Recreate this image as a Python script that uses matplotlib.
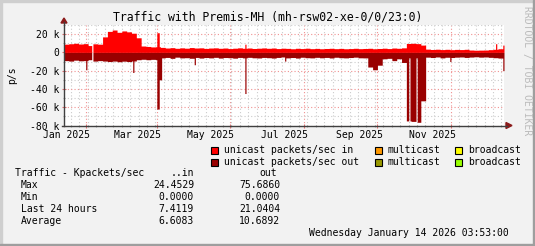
import datetime as dt
import numpy as np
import matplotlib
matplotlib.use("Agg")
import matplotlib.pyplot as plt
import matplotlib.dates as mdates
from matplotlib.patches import Rectangle, Polygon
from matplotlib.lines import Line2D
from matplotlib.transforms import IdentityTransform
from matplotlib.ticker import MultipleLocator, NullFormatter

W, H = 535, 246
MONO = "DejaVu Sans Mono"

start = dt.datetime(2025, 1, 14, 3, 53)
end = dt.datetime(2026, 1, 14, 3, 53)
step_days = 4

# k packets/s, one value per 4 days
in_base = [9.0, 9.5, 10.0, 9.2, 9.6, 7.5, 9.4, 9.0,
           17.0,
           23.0, 24.5, 22.0, 23.5, 22.5, 21.0,
           16.0,
           7.0, 6.5, 6.0, 6.2,
           5.5, 4.8, 5.2, 4.5, 5.0, 4.6, 5.3, 4.8, 5.0, 4.4,
           4.8, 5.0, 4.5, 4.8, 4.2, 4.6, 5.0, 4.5, 4.8, 4.3, 4.6, 4.9,
           4.5, 4.8, 4.2, 4.6, 4.4, 4.0, 4.5, 4.2, 4.6, 4.1, 4.4, 4.0, 4.3, 4.5,
           4.1, 4.4, 4.0, 4.2, 4.5, 4.1, 4.3,
           4.5, 4.0, 4.3, 4.6, 4.2, 4.8, 4.5, 5.0,
           9.8, 10.0, 9.6, 8.0,
           3.6, 3.2, 3.5, 3.1, 3.4, 3.0, 3.3, 3.1, 3.4, 2.6, 2.4, 2.5, 2.6, 3.0,
           3.4, 4.0, 5.0]
out_base = [9.0, 9.5, 8.5, 9.2, 9.0, 8.0, 9.5, 9.0,
            9.5, 10.0, 9.5, 10.2, 9.6, 10.0, 9.4,
            8.0, 7.5, 8.0, 7.6, 8.0,
            6.0, 5.5, 6.5, 5.2, 6.0, 5.8, 6.4, 5.5, 6.2, 5.6,
            6.0, 5.4, 6.2, 5.6, 5.8, 6.3, 5.5, 6.0, 5.4, 5.9, 6.1, 5.5,
            5.8, 6.2, 5.5, 5.0, 6.0, 5.6, 6.2, 5.3, 5.8, 6.0, 5.4, 5.9, 5.5, 6.1,
            5.3, 5.8, 6.0, 5.6, 5.2, 5.9, 6.0,
            16.0, 19.0, 14.0, 7.0, 6.5, 9.0, 7.0, 11.0,
            75.0, 75.5, 76.5, 53.0,
            5.2, 5.6, 5.0, 6.0, 5.3, 5.6, 5.2, 5.0, 5.5, 5.1, 4.8, 5.2, 5.0, 5.4,
            5.8, 6.2, 7.0]

# single days that stand out (day counted from start)
in_spike_day = [23, 77, 78, 150, 358, 364]
in_spike_val = [0.0, 21.5, 21.5, 9.0, 9.5, 8.0]
out_spike_day = [18, 23, 57, 77, 78, 79, 80, 108, 150, 183, 286, 292, 320, 364]
out_spike_val = [19.0, 0.0, 22.0, 62.0, 62.0, 30.0, 30.0, 13.5, 45.0, 9.5, 6.0, 6.0, 10.0, 20.0]

label_months = [(2025, 1), (2025, 3), (2025, 5), (2025, 7), (2025, 9), (2025, 11)]
ytick_vals = [20, 0, -20, -40, -60, -80]
ytick_text = ["20 k", "0", "-20 k", "-40 k", "-60 k", "-80 k"]

legend_names = ["unicast packets/sec in", "multicast", "broadcast",
                "unicast packets/sec out", "multicast", "broadcast"]
legend_colors = ["#ff0000", "#ff9900", "#ffff00", "#990000", "#999900", "#99ff00"]

stat_rows = ["Max", "Min", "Last 24 hours", "Average"]
stat_in = [24.4529, 0.0, 7.4119, 6.6083]
stat_out = [75.6860, 0.0, 21.0404, 10.6892]

ndays = (end - start).days
in_daily = np.repeat(np.array(in_base, dtype=float), step_days)[:ndays]
out_daily = np.repeat(np.array(out_base, dtype=float), step_days)[:ndays]
in_daily[in_spike_day] = in_spike_val
out_daily[out_spike_day] = out_spike_val

fig = plt.figure(figsize=(W / 100, H / 100), dpi=100)
fig.patch.set_facecolor("#f2f2f2")

# plot area 64..504 px wide, 25..125.5 px from top
ax = fig.add_axes([64 / W, (H - 125.5) / H, 440 / W, 100.5 / H])
ax.set_facecolor("white")

x = mdates.date2num(start) + np.arange(ndays + 1)
ax.fill_between(x, np.append(in_daily, in_daily[-1]), step="post", color="#ff0000", lw=0, zorder=2)
ax.fill_between(x, -np.append(out_daily, out_daily[-1]), step="post", color="#990000", lw=0, zorder=2)

ax.set_xlim(mdates.date2num(start), mdates.date2num(end))
ax.set_ylim(-80, 30)

ax.xaxis.set_major_locator(mdates.MonthLocator(bymonth=[2, 4, 6, 8, 10, 12]))
ax.xaxis.set_minor_locator(mdates.WeekdayLocator(byweekday=mdates.MO))
ax.xaxis.set_major_formatter(NullFormatter())
ax.set_yticks(ytick_vals, ytick_text)
ax.yaxis.set_minor_locator(MultipleLocator(10))
ax.set_axisbelow(True)
ax.grid(which="minor", color="#cccccc", ls=(0, (1, 2)), lw=0.8)
ax.grid(which="major", color="#f09090", ls=(0, (1, 2)), lw=0.8)
ax.tick_params(which="major", length=3, direction="inout", color="#e07070", width=0.8)
ax.tick_params(which="minor", length=2, direction="inout", color="#aaaaaa", width=0.8)
ax.tick_params(axis="y", labelsize=7, pad=2)
for lab in ax.get_yticklabels():
    lab.set_family(MONO)
for s in ax.spines.values():
    s.set_visible(False)

# month labels centred in their month
for yr, mo in label_months:
    c = dt.datetime(yr, mo, 1) + dt.timedelta(days=15)
    ax.annotate(c.strftime("%b %Y"), xy=(mdates.date2num(c), 0), xycoords=("data", "axes fraction"),
                xytext=(0, -10), textcoords="offset pixels", ha="center", va="center",
                fontsize=7, family=MONO, annotation_clip=False)

# axes with arrows (pixel coords, origin bottom-left)
px = IdentityTransform()
axis_col = "#404040"
arrow_col = "#8b1a1a"
fig.add_artist(Line2D([64, 64], [H - 126, H - 22], color=axis_col, lw=1, transform=px))
fig.add_artist(Line2D([62, 507], [H - 125.5, H - 125.5], color=axis_col, lw=1, transform=px))
fig.add_artist(Polygon([[61, H - 23], [67, H - 23], [64, H - 18]], closed=True, color=arrow_col, transform=px))
fig.add_artist(Polygon([[506, H - 122.5], [506, H - 128.5], [512, H - 125.5]], closed=True, color=arrow_col, transform=px))

# frame
fig.add_artist(Rectangle((0, H - 2), W, 2, color="#cfcfcf", transform=px))
fig.add_artist(Rectangle((0, 0), 2, H, color="#cfcfcf", transform=px))
fig.add_artist(Rectangle((0, 0), W, 2, color="#9e9e9e", transform=px))
fig.add_artist(Rectangle((W - 2, 0), 2, H, color="#9e9e9e", transform=px))

fig.text(0.5, 1 - 17 / H, "Traffic with Premis-MH (mh-rsw02-xe-0/0/23:0)", ha="center", va="center",
         fontsize=8.3, family=MONO)
fig.text(12 / W, 1 - 75.5 / H, "p/s", rotation=90, ha="center", va="center", fontsize=7, family=MONO)
fig.text(527 / W, 1 - 71 / H, "RRDTOOL / TOBI OETIKER", rotation=270, ha="center", va="center",
         fontsize=7, family=MONO, color="#bbbbbb")

# legend
sq_x = [211, 375, 455]
txt_x = [224, 388, 468]
row_y = [150, 162]
for i, (name, col) in enumerate(zip(legend_names, legend_colors)):
    r, c = divmod(i, 3)
    y = H - row_y[r]
    fig.add_artist(Rectangle((sq_x[c], y - 3.5), 7, 7, facecolor=col, edgecolor="black", lw=0.8, transform=px))
    fig.text(txt_x[c] / W, y / H, name, ha="left", va="center", fontsize=7, family=MONO)

# statistics
fig.text(15 / W, 1 - 173 / H, "Traffic - Kpackets/sec", ha="left", va="center", fontsize=7, family=MONO)
fig.text(194 / W, 1 - 173 / H, "..in", ha="right", va="center", fontsize=7, family=MONO)
fig.text(277 / W, 1 - 173 / H, "out", ha="right", va="center", fontsize=7, family=MONO)
for i, name in enumerate(stat_rows):
    y = 1 - (185 + 12 * i) / H
    fig.text(21 / W, y, name, ha="left", va="center", fontsize=7, family=MONO)
    fig.text(194 / W, y, f"{stat_in[i]:.4f}", ha="right", va="center", fontsize=7, family=MONO)
    fig.text(280 / W, y, f"{stat_out[i]:.4f}", ha="right", va="center", fontsize=7, family=MONO)

fig.text(509 / W, 1 - 233 / H, end.strftime("%A %B %d %Y 03:53:00"), ha="right", va="center",
         fontsize=7, family=MONO)

fig.savefig("out.png", dpi=100, facecolor=fig.get_facecolor())
